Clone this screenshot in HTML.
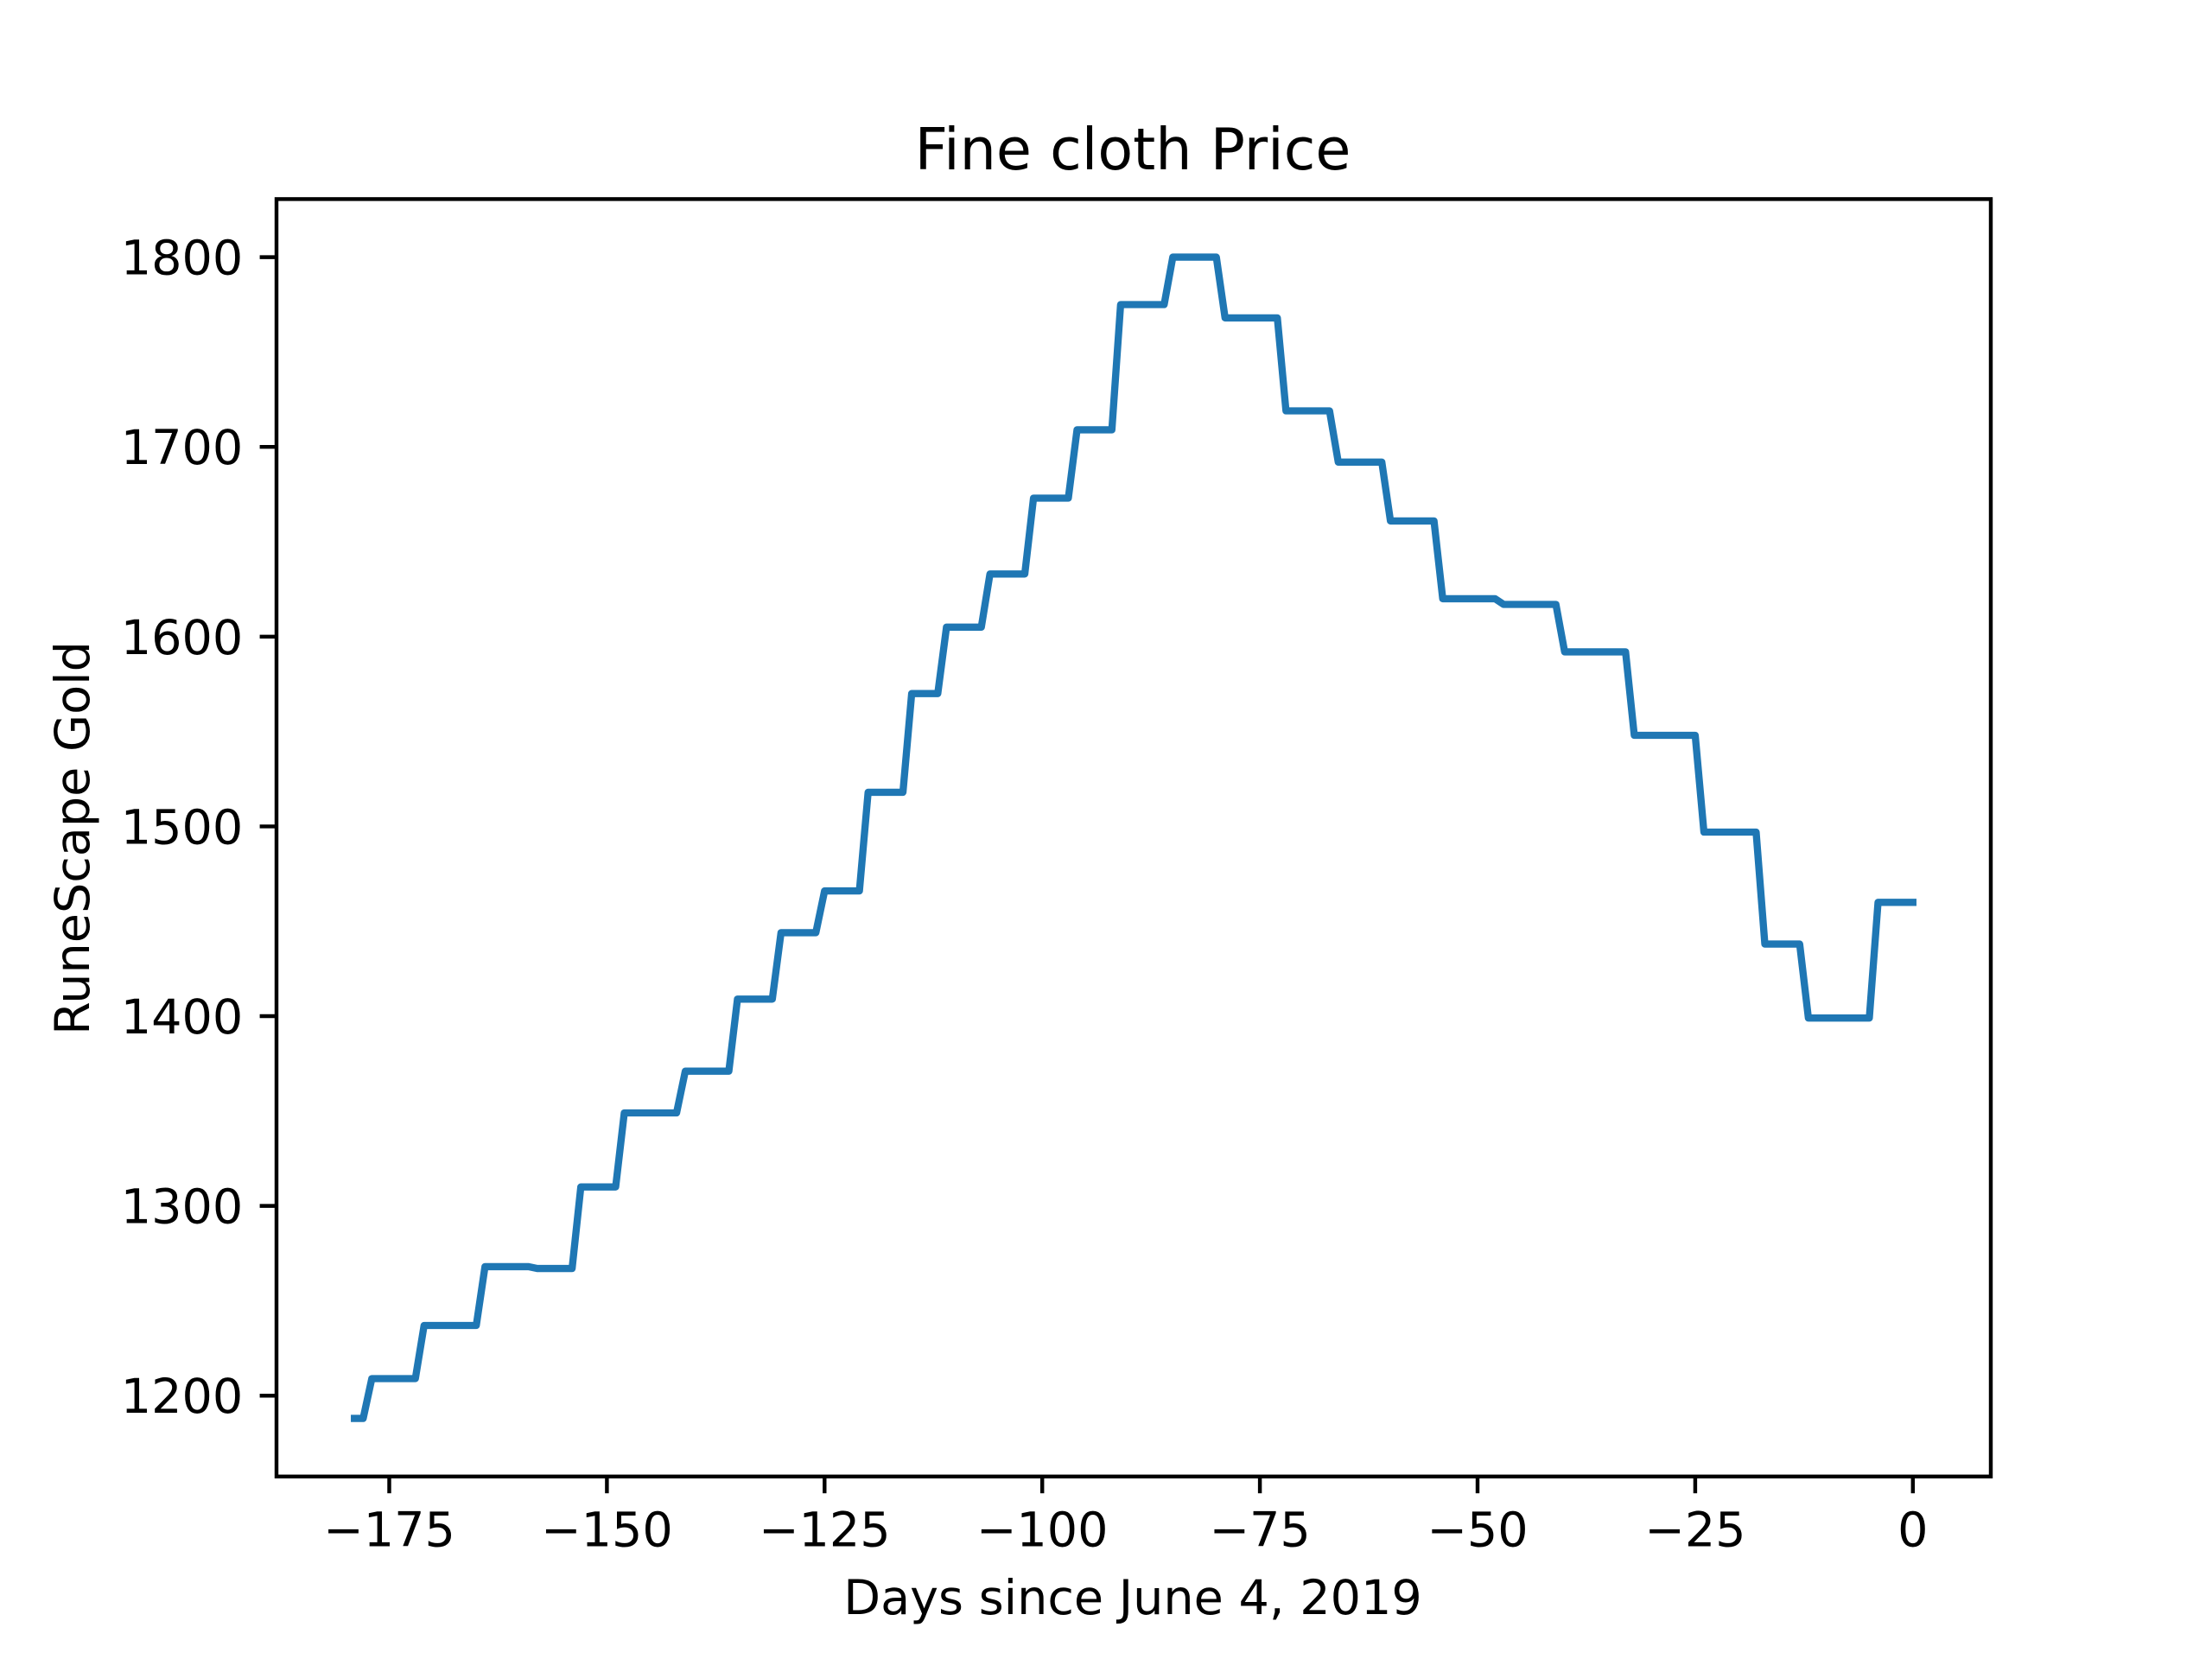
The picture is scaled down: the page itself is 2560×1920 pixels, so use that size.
<!DOCTYPE html>
<html><head><meta charset="utf-8"><style>
html,body{margin:0;padding:0;background:#fff;}
svg{display:block;font-family:"DejaVu Sans","Liberation Sans",sans-serif;}
</style></head><body>
<svg id="chart" xmlns="http://www.w3.org/2000/svg" width="2560" height="1920" viewBox="0 0 2560 1920">
<rect width="2560" height="1920" fill="#fff"/>
<text x="1311" y="196" font-size="66.7" text-anchor="middle">Fine cloth Price</text>
<g id="plot"></g>
<text x="1311" y="1868" font-size="55.6" text-anchor="middle">Days since June 4, 2019</text>
<text transform="translate(103,970) rotate(-90)" font-size="55.6" text-anchor="middle">RuneScape Gold</text>
</svg>
<script>
const stepDays = [-179,-177,-171,-164,-158,-153,-148,-141,-135,-130,-125,-120,-115,-111,-106,-101,-96,-91,-85,-79,-72,-66,-60,-54,-47,-40,-32,-24,-17,-12,-4];
const stepValues = [1188,1209,1237,1268,1267,1310,1349,1371,1409,1444,1466,1518,1570,1605,1633,1673,1709,1775,1800,1768,1719,1692,1661,1620,1617,1592,1548,1497,1438,1399,1460];
const lastDay = 0;
const xTicks = [-175,-150,-125,-100,-75,-50,-25,0];
const xTickLabels = ["\u2212175","\u2212150","\u2212125","\u2212100","\u221275","\u221250","\u221225","0"];
const yTicks = [1200,1300,1400,1500,1600,1700,1800];
const yTickLabels = ["1200","1300","1400","1500","1600","1700","1800"];

const L=320,R=2304,T=230.4,B=1708.8;
const ns="http://www.w3.org/2000/svg";
const plot=document.getElementById('plot');
const days=[],vals=[];
for(let i=0;i<stepDays.length;i++){
  const end = i+1<stepDays.length ? stepDays[i+1]-1 : lastDay;
  for(let d=stepDays[i]; d<=end; d++){ days.push(d); vals.push(stepValues[i]); }
}
const xmin=Math.min(...days),xmax=Math.max(...days);
const ymin=Math.min(...vals),ymax=Math.max(...vals);
const xm=(xmax-xmin)*0.05,ym=(ymax-ymin)*0.05;
const x0=xmin-xm,x1=xmax+xm,y0=ymin-ym,y1=ymax+ym;
const sx=v=>L+(v-x0)/(x1-x0)*(R-L);
const sy=v=>B-(v-y0)/(y1-y0)*(B-T);

const line=document.createElementNS(ns,'polyline');


line.setAttribute('points',days.map((d,i)=>sx(d).toFixed(1)+','+sy(vals[i]).toFixed(1)).join(' '));
line.setAttribute('fill','none');line.setAttribute('stroke','#1f77b4');
line.setAttribute('stroke-width','8.33');line.setAttribute('stroke-linejoin','round');line.setAttribute('stroke-linecap','square');
plot.appendChild(line);

const frame=document.createElementNS(ns,'rect');


frame.setAttribute('x',L);frame.setAttribute('y',T);frame.setAttribute('width',R-L);frame.setAttribute('height',B-T);
frame.setAttribute('fill','none');frame.setAttribute('stroke','#000');frame.setAttribute('stroke-width','4.44');
plot.appendChild(frame);

xTicks.forEach((v,i)=>{
  const x=sx(v);
  const t=document.createElementNS(ns,'line');
  
  
  t.setAttribute('x1',x);t.setAttribute('x2',x);t.setAttribute('y1',B);t.setAttribute('y2',B+19.4);
  t.setAttribute('stroke','#000');t.setAttribute('stroke-width','4.44');
  plot.appendChild(t);
  const s=document.createElementNS(ns,'text');
  
  
  s.setAttribute('x',x);s.setAttribute('y',B+19.4+19.4+42);s.setAttribute('font-size','55.6');s.setAttribute('text-anchor','middle');
  s.textContent=xTickLabels[i];
  plot.appendChild(s);
});
yTicks.forEach((v,i)=>{
  const y=sy(v);
  const t=document.createElementNS(ns,'line');
  
  
  t.setAttribute('x1',L-19.4);t.setAttribute('x2',L);t.setAttribute('y1',y);t.setAttribute('y2',y);
  t.setAttribute('stroke','#000');t.setAttribute('stroke-width','4.44');
  plot.appendChild(t);
  const s=document.createElementNS(ns,'text');
  
  
  s.setAttribute('x',L-19.4-19.4);s.setAttribute('y',y+20);s.setAttribute('font-size','55.6');s.setAttribute('text-anchor','end');
  s.textContent=yTickLabels[i];
  plot.appendChild(s);
});
</script>
</body></html>
